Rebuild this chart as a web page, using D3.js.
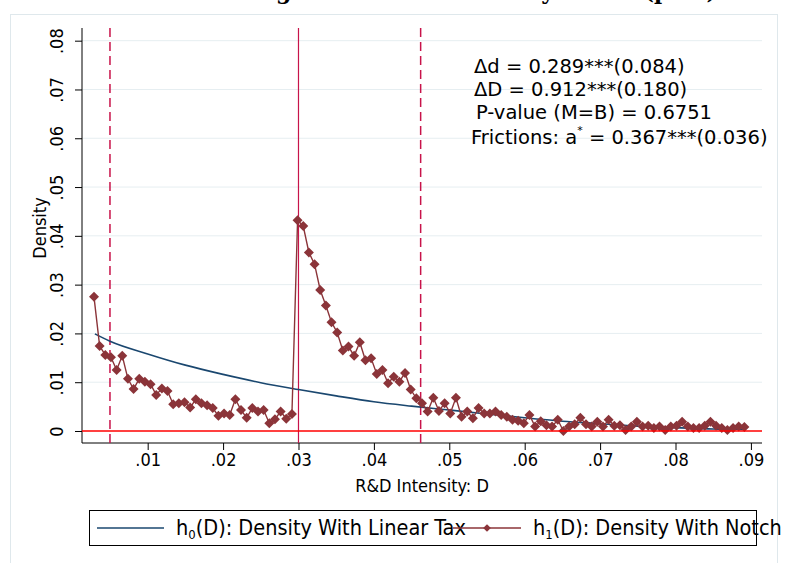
<!DOCTYPE html>
<html lang="en">
<head>
<meta charset="UTF-8">
<title>R&amp;D Intensity Bunching</title>
<style>
  body { margin: 0; background: #fff; }
  svg text { font-family: 'DejaVu Sans', sans-serif; fill: #000; }
  .cond { font-family: 'DejaVu Sans Condensed', 'DejaVu Sans', sans-serif; }
</style>
</head>
<body>
<div id="chart"></div>
<script src="https://cdn.jsdelivr.net/npm/d3@7/dist/d3.min.js"></script>
<script>
// bins of R&D intensity (h1 observed density with notch)
const binStart = 0.00288;
const binWidth = 0.00075;
const notchDensity = [
  0.0275, 0.0174, 0.0156, 0.0151, 0.0125, 0.0154, 0.0107, 0.0086, 0.0107, 0.0101,
  0.0096, 0.0074, 0.0087, 0.0082, 0.0055, 0.0057, 0.0059, 0.0048, 0.0065, 0.0057,
  0.0053, 0.0047, 0.0031, 0.0036, 0.0033, 0.0065, 0.0043, 0.0027, 0.0047, 0.0040,
  0.0043, 0.0016, 0.0024, 0.0040, 0.0025, 0.0035, 0.0432, 0.0420, 0.0366, 0.0342,
  0.0289, 0.0257, 0.0223, 0.0202, 0.0165, 0.0173, 0.0154, 0.0182, 0.0145, 0.0149,
  0.0117, 0.0125, 0.0098, 0.0111, 0.0101, 0.0119, 0.0085, 0.0067, 0.0057, 0.0040,
  0.0068, 0.0041, 0.0057, 0.0036, 0.0068, 0.0029, 0.0040, 0.0026, 0.0047, 0.0036,
  0.0036, 0.0040, 0.0033, 0.0029, 0.0023, 0.0021, 0.0016, 0.0033, 0.0009, 0.0020,
  0.0012, 0.0009, 0.0023, 0.0000, 0.0009, 0.0014, 0.0027, 0.0014, 0.0009, 0.0019,
  0.0009, 0.0023, 0.0011, 0.0012, 0.0002, 0.0009, 0.0019, 0.0009, 0.0011, 0.0006,
  0.0009, 0.0002, 0.0009, 0.0011, 0.0019, 0.0009, 0.0006, 0.0006, 0.0011, 0.0019,
  0.0011, 0.0006, 0.0002, 0.0006, 0.0009, 0.0008
];

// h0 counterfactual density (linear tax), read at a few points
const linearTaxD = [0.003, 0.005, 0.010, 0.015, 0.020, 0.025, 0.030, 0.035, 0.040,
  0.045, 0.050, 0.055, 0.060, 0.065, 0.070, 0.075, 0.080, 0.085, 0.089];
const linearTaxDensity = [0.0199, 0.0184, 0.0158, 0.0135, 0.0116, 0.0099, 0.0085,
  0.0072, 0.0060, 0.0051, 0.0043, 0.0035, 0.0027, 0.0020, 0.0015, 0.0010, 0.0007,
  0.0004, 0.0003];

const bunchLower = 0.0050;
const notchPoint = 0.0300;
const bunchUpper = 0.0462;

const xTicks = [0.01, 0.02, 0.03, 0.04, 0.05, 0.06, 0.07, 0.08, 0.09];
const yTicks = [0, 0.01, 0.02, 0.03, 0.04, 0.05, 0.06, 0.07, 0.08];
const tickFmt = v => v === 0 ? "0" : d3.format(".2f")(v).replace(/^0/, "");

const width = 786, height = 563;
const plot = { left: 82, right: 762, top: 28, bottom: 443 };

const svg = d3.select("#chart").append("svg")
  .attr("width", width).attr("height", height);

// outer frame and title (cut at the top, as in the source image)
svg.append("rect")
  .attr("x", 10.5).attr("y", 14.5).attr("width", 767).attr("height", 560)
  .attr("fill", "none").attr("stroke", "#dfe8ec");
svg.append("text")
  .attr("x", 717).attr("y", -1)
  .attr("text-anchor", "end")
  .style("font-family", "'DejaVu Serif', serif")
  .style("font-weight", "bold").style("font-size", "22px")
  .text("Bunching at the R&D Intensity Notch (post)");

const x = d3.scaleLinear().domain([0.00129, 0.09147]).range([plot.left, plot.right]);
const y = d3.scaleLinear().domain([-0.00246, 0.0826]).range([plot.bottom, plot.top]);

// gridlines
svg.append("g")
  .selectAll("line")
  .data(yTicks.filter(v => v > 0))
  .join("line")
  .attr("x1", plot.left).attr("x2", plot.right)
  .attr("y1", d => y(d)).attr("y2", d => y(d))
  .attr("stroke", "#e6eef1").attr("stroke-width", 1);

// axes
const yAxis = svg.append("g")
  .attr("transform", `translate(${plot.left},0)`)
  .call(d3.axisLeft(y).tickValues(yTicks).tickFormat(tickFmt).tickSize(7).tickSizeOuter(0));
yAxis.selectAll("text")
  .attr("class", "cond")
  .style("font-size", "18px")
  .attr("x", 0).attr("y", 0).attr("dy", 0)
  .attr("transform", "translate(-19,0) rotate(-90)")
  .attr("text-anchor", "middle");

const xAxis = svg.append("g")
  .attr("transform", `translate(0,${plot.bottom})`)
  .call(d3.axisBottom(x).tickValues(xTicks).tickFormat(tickFmt).tickSize(7).tickSizeOuter(0));
xAxis.selectAll("text").attr("class", "cond").style("font-size", "18px").attr("y", 10);

svg.selectAll(".domain").attr("stroke", "#000").attr("stroke-width", 1);
svg.selectAll(".tick line").attr("stroke", "#000");
yAxis.select(".domain").attr("d", `M0,${plot.top}V${plot.bottom}`);
xAxis.select(".domain").attr("d", `M${plot.left},0H${plot.right}`);

svg.append("text")
  .attr("class", "cond")
  .attr("transform", `translate(46,228) rotate(-90)`)
  .attr("text-anchor", "middle")
  .style("font-size", "18px")
  .text("Density");

svg.append("text")
  .attr("class", "cond")
  .attr("x", 422).attr("y", 492)
  .attr("text-anchor", "middle")
  .style("font-size", "18px")
  .text("R&D Intensity: D");

// reference lines
const vcol = "#c8134a";
[bunchLower, bunchUpper].forEach(v => {
  svg.append("line")
    .attr("x1", x(v)).attr("x2", x(v))
    .attr("y1", plot.top).attr("y2", plot.bottom)
    .attr("stroke", vcol).attr("stroke-width", 1.5)
    .attr("stroke-dasharray", "9,5");
});
svg.append("line")
  .attr("x1", x(notchPoint)).attr("x2", x(notchPoint))
  .attr("y1", plot.top).attr("y2", plot.bottom)
  .attr("stroke", vcol).attr("stroke-width", 1.2);

// counterfactual h0
const h0 = linearTaxD.map((d, i) => [d, linearTaxDensity[i]]);
svg.append("path")
  .datum(h0)
  .attr("fill", "none")
  .attr("stroke", "#1a476f")
  .attr("stroke-width", 1.6)
  .attr("d", d3.line().x(d => x(d[0])).y(d => y(d[1])).curve(d3.curveMonotoneX));

// observed h1
const h1 = notchDensity.map((v, i) => [binStart + i * binWidth, v]);
const h1col = "#8b3439";
svg.append("path")
  .datum(h1)
  .attr("fill", "none")
  .attr("stroke", h1col)
  .attr("stroke-width", 1.4)
  .attr("d", d3.line().x(d => x(d[0])).y(d => y(d[1])));

const diamond = d3.symbol(d3.symbolSquare, 50);
svg.append("g")
  .selectAll("path")
  .data(h1)
  .join("path")
  .attr("transform", d => `translate(${x(d[0])},${y(d[1])}) rotate(45)`)
  .attr("d", diamond)
  .attr("fill", h1col);

// zero line
svg.append("line")
  .attr("x1", plot.left).attr("x2", plot.right)
  .attr("y1", y(0)).attr("y2", y(0))
  .attr("stroke", "#f00").attr("stroke-width", 1.6);

// estimates
const ann = svg.append("g").style("font-size", "19.5px");
ann.append("text").attr("x", 474).attr("y", 73).text("Δd = 0.289***(0.084)");
ann.append("text").attr("x", 474).attr("y", 96).text("ΔD = 0.912***(0.180)");
ann.append("text").attr("x", 476).attr("y", 119).text("P-value (M=B) = 0.6751");
const fr = ann.append("text").attr("x", 471).attr("y", 144);
fr.append("tspan").text("Frictions: a");
fr.append("tspan").attr("dy", -10).style("font-size", "11px").text("*");
fr.append("tspan").attr("dy", 10).text(" = 0.367***(0.036)");

// legend
const lg = svg.append("g");
lg.append("rect")
  .attr("x", 89.5).attr("y", 510.5).attr("width", 667).attr("height", 35)
  .attr("fill", "#fff").attr("stroke", "#000");
lg.append("line")
  .attr("x1", 97).attr("x2", 164).attr("y1", 528).attr("y2", 528)
  .attr("stroke", "#1a476f").attr("stroke-width", 1.6);
const t0 = lg.append("text").attr("class", "cond").attr("x", 176).attr("y", 535).style("font-size", "21.5px");
t0.append("tspan").text("h");
t0.append("tspan").attr("dy", 4).style("font-size", "13px").text("0");
t0.append("tspan").attr("dy", -4).text("(D): Density With Linear Tax");
lg.append("line")
  .attr("x1", 453).attr("x2", 521).attr("y1", 528).attr("y2", 528)
  .attr("stroke", h1col).attr("stroke-width", 1.6);
lg.append("path")
  .attr("transform", "translate(487,528) rotate(45)")
  .attr("d", d3.symbol(d3.symbolSquare, 30))
  .attr("fill", h1col);
const t1 = lg.append("text").attr("class", "cond").attr("x", 533).attr("y", 535).style("font-size", "21.5px");
t1.append("tspan").text("h");
t1.append("tspan").attr("dy", 4).style("font-size", "13px").text("1");
t1.append("tspan").attr("dy", -4).text("(D): Density With Notch");
</script>
</body>
</html>
